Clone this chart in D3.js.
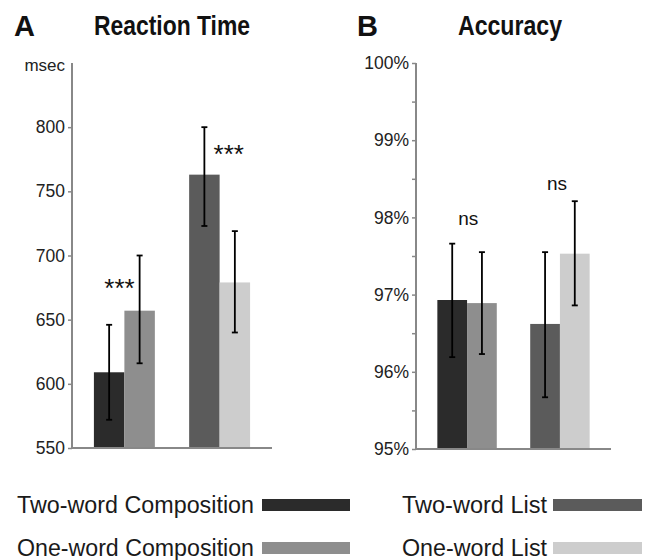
<!DOCTYPE html>
<html><head><meta charset="utf-8">
<script src="https://cdn.jsdelivr.net/npm/d3@7"></script>
<style>
html,body{margin:0;padding:0;background:#fff;}
svg{display:block;}
text{font-family:"Liberation Sans",Arial,sans-serif;}
</style>
</head><body>
<svg id="chart" width="647" height="560"></svg>
<script>
// ---- data ----
const conditions = ["Two-word Composition","One-word Composition","Two-word List","One-word List"];
const colors = ["#2b2b2b","#8e8e8e","#5b5b5b","#cdcdcd"];
const groups = ["Composition","List"];
// Reaction time (msec)
const rtMeans = [609, 657, 763, 679];
const rtLow   = [572, 616, 723, 640];
const rtHigh  = [646, 700, 800, 719];
const rtTicks = [550, 600, 650, 700, 750, 800];
const rtSig = ["***","***"];
// Accuracy (%)
const accMeans = [96.93, 96.89, 96.62, 97.53];
const accLow   = [96.19, 96.23, 95.67, 96.86];
const accHigh  = [97.66, 97.55, 97.55, 98.21];
const accTicks = [95, 96, 97, 98, 99, 100];
const accMinor = [95.5, 96.5, 97.5, 98.5, 99.5];
const accSig = ["ns","ns"];

const svg = d3.select("#chart");

function panel(opts){
  const g = svg.append("g");
  const y = d3.scaleLinear().domain(opts.domain).range([opts.bottom, opts.top]);
  const gx = d3.scaleBand().domain(groups).range([opts.left, opts.right]).paddingInner(0.36).paddingOuter(0.23);
  const sub = d3.scaleBand().domain([0,1]).range([0, gx.bandwidth()]);
  opts.means.forEach((m,i)=>{
    const grp = groups[Math.floor(i/2)];
    const x0 = gx(grp) + sub(i%2);
    g.append("rect").attr("x",x0).attr("width",sub.bandwidth())
      .attr("y",y(m)).attr("height",y(opts.domain[0])-y(m)).attr("fill",colors[i]);
  });
  opts.means.forEach((m,i)=>{
    const grp = groups[Math.floor(i/2)];
    const cx = gx(grp) + sub(i%2) + sub.bandwidth()/2;
    g.append("line").attr("x1",cx).attr("x2",cx).attr("y1",y(opts.low[i])).attr("y2",y(opts.high[i]))
      .attr("stroke","#000").attr("stroke-width",1.8);
    [opts.low[i],opts.high[i]].forEach(v=>{
      g.append("line").attr("x1",cx-3).attr("x2",cx+3).attr("y1",y(v)).attr("y2",y(v))
        .attr("stroke","#000").attr("stroke-width",1.8);
    });
  });
  const ax = g.append("g").attr("transform",`translate(${opts.left},0)`)
    .call(d3.axisLeft(y).tickValues(opts.ticks).tickFormat(opts.fmt).tickSize(4).tickPadding(3));
  ax.select(".domain").remove();
  ax.selectAll(".tick line").attr("stroke","#888").attr("stroke-width",1.5);
  ax.selectAll(".tick text").attr("font-size",17.5).attr("fill","#222");
  if(opts.minor){
    g.append("g").attr("transform",`translate(${opts.left},0)`)
      .call(d3.axisLeft(y).tickValues(opts.minor).tickFormat("").tickSize(4))
      .call(s=>{s.select(".domain").remove(); s.selectAll("line").attr("stroke","#888").attr("stroke-width",1.5);});
  }
  g.append("line").attr("x1",opts.left).attr("x2",opts.left).attr("y1",opts.top).attr("y2",opts.bottom+1)
    .attr("stroke","#888").attr("stroke-width",2);
  g.append("line").attr("x1",opts.left-1).attr("x2",opts.right).attr("y1",opts.bottom).attr("y2",opts.bottom)
    .attr("stroke","#888").attr("stroke-width",2);
  opts.sig.forEach((s,k)=>{
    const grp = groups[k];
    g.append("text").attr("x",gx(grp)+gx.bandwidth()*opts.sigPos[k].dx).attr("y",y(opts.sigPos[k].v))
      .attr("text-anchor","middle").attr("font-size",opts.sigSize).attr("fill","#111").text(s);
  });
  return {g,y};
}

const A = panel({domain:[550,850], top:63, bottom:448, left:72, right:272,
  means:rtMeans, low:rtLow, high:rtHigh, ticks:rtTicks, fmt:d3.format("d"),
  sig:rtSig, sigPos:[{dx:0.42,v:668},{dx:0.65,v:772}], sigSize:26});
A.g.append("text").attr("x",65).attr("y",71).attr("text-anchor","end")
  .attr("font-size",17).attr("fill","#222").text("msec");

const B = panel({domain:[95,100], top:63, bottom:449, left:416, right:611,
  means:accMeans, low:accLow, high:accHigh, ticks:accTicks, minor:accMinor, fmt:d=>d+"%",
  sig:accSig, sigPos:[{dx:0.52,v:97.9},{dx:0.45,v:98.36}], sigSize:19});

// titles
function title(t,x,y,size,len){
  const e = svg.append("text").attr("x",x).attr("y",y).attr("font-weight","bold")
    .attr("font-size",size).attr("fill","#111").text(t);
  if(len) e.attr("textLength",len).attr("lengthAdjust","spacingAndGlyphs");
  return e;
}
title("A",14,36,29);
title("Reaction Time",94,35,28,156);
title("B",357,36,29);
title("Accuracy",458,35,28,104);

// legend
const legendPos = [
  {tx:17, tw:237, sx:262, sw:88, y:513},
  {tx:17, tw:237, sx:262, sw:88, y:556},
  {tx:402, tw:145, sx:553, sw:89, y:513},
  {tx:402, tw:145, sx:553, sw:89, y:556}
];
conditions.forEach((c,i)=>{
  const p = legendPos[i];
  svg.append("text").attr("x",p.tx).attr("y",p.y)
    .attr("font-size",23).attr("fill","#1a1a1a")
    .attr("textLength",p.tw).attr("lengthAdjust","spacingAndGlyphs").text(c);
  svg.append("rect").attr("x",p.sx).attr("y",p.y-14).attr("width",p.sw).attr("height",12)
    .attr("fill",colors[i]);
});
</script>
</body></html>
